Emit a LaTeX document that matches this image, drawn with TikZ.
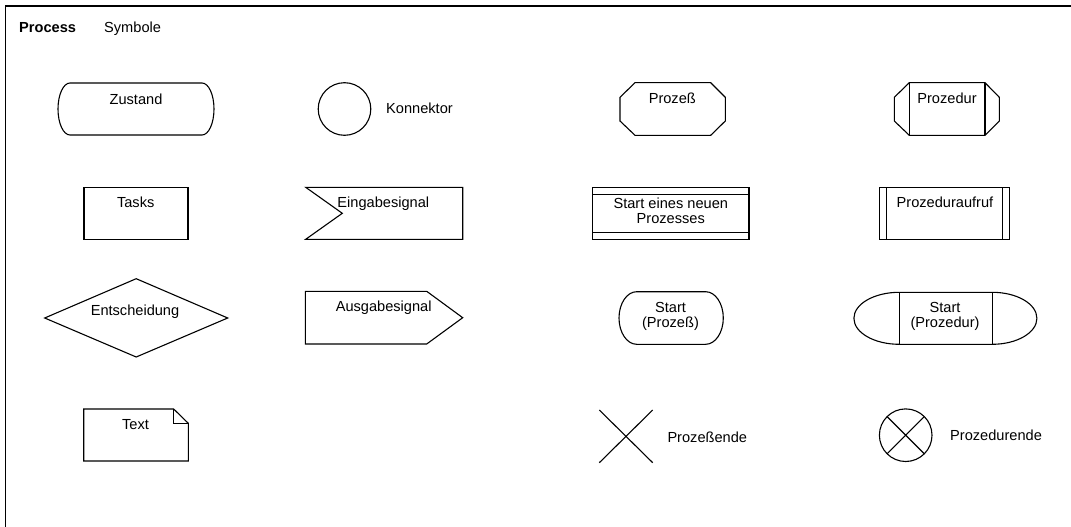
\documentclass[tikz,border=0pt]{standalone}
\usepackage{fontspec}
\setmainfont{Liberation Sans}
\begin{document}
\begin{tikzpicture}[x=1pt,y=-1pt,
  shp/.style={draw=black,line width=1.1pt,line join=miter},
  lbl/.style={inner sep=0pt,anchor=base,font=\fontsize{14.6}{16}\selectfont},
  lblw/.style={lbl,anchor=base west}]
\useasboundingbox (0,0) rectangle (1071,527);
% frame
\draw[line width=1.3pt] (5.5,527) -- (5.5,6) -- (1071,6);
% heading
\node[lblw,font=\fontsize{14.6}{16}\selectfont\bfseries] (hproc) at (19,33) {Process};
\node[lblw] (hsym) at (104,33) {Symbole};

% row 1
\draw[shp] (70,83) -- (202,83) arc[start angle=-90,end angle=90,x radius=12,y radius=26]
  -- (70,135) arc[start angle=90,end angle=270,x radius=12,y radius=26] -- cycle;
\node[lbl] (zustand) at (136,104.5) {Zustand};

\draw[shp] (344.5,109) circle[radius=26.3];
\node[lblw] (konn) at (386,113.5) {Konnektor};

\draw[shp] (635,82.7) -- (710.7,82.7) -- (725.3,97.3) -- (725.3,121) -- (710.7,135.3)
  -- (635,135.3) -- (620,121) -- (620,97.3) -- cycle;
\node[lbl] (prozess) at (672.3,103.3) {Prozeß};

\draw[shp] (909.3,82.7) -- (985,82.7) -- (999.3,97.3) -- (999.3,121) -- (985,135.3)
  -- (909.3,135.3) -- (894.3,121) -- (894.3,97.3) -- cycle;
\draw[shp] (909.3,82.7) -- (909.3,135.3) (985,82.7) -- (985,135.3);
\node[lbl] (prozedur) at (947,103.3) {Prozedur};

% row 2
\draw[shp] (84,187.3) rectangle (188,239.3);
\node[lbl] (tasks) at (135.7,207.6) {Tasks};

\draw[shp] (305.7,187.3) -- (462.7,187.3) -- (462.7,239.3) -- (305.7,239.3) -- (342.3,213.3) -- cycle;
\node[lbl] (eingabe) at (383.3,207.6) {Eingabesignal};

\draw[shp] (592.7,187.3) rectangle (749,239.3);
\draw[shp] (592.7,194.3) -- (749,194.3) (592.7,232.3) -- (749,232.3);
\node[lbl] (startneu1) at (670.8,208) {Start eines neuen};
\node[lbl] (startneu2) at (670.8,223.6) {Prozesses};

\draw[shp] (879.3,187.3) rectangle (1009.3,239.3);
\draw[shp] (886.7,187.3) -- (886.7,239.3) (1002.7,187.3) -- (1002.7,239.3);
\node[lbl] (aufruf) at (945,207.6) {Prozeduraufruf};

% row 3
\draw[shp] (44.7,318) -- (136.2,278.7) -- (227.7,318) -- (136.2,357) -- cycle;
\node[lbl] (entsch) at (135,315.7) {Entscheidung};

\draw[shp] (305.3,291.3) -- (426.7,291.3) -- (462.7,317.7) -- (426.7,344) -- (305.3,344) -- cycle;
\node[lbl] (ausgabe) at (383.7,311.5) {Ausgabesignal};

\draw[shp] (636.7,291.7) -- (705.6,291.7) arc[start angle=-90,end angle=90,x radius=17.7,y radius=26.3]
  -- (636.7,344.3) arc[start angle=90,end angle=270,x radius=17.7,y radius=26.3] -- cycle;
\node[lbl] (startp1) at (670.5,312) {Start};
\node[lbl] (startp2) at (670.5,327.8) {(Prozeß)};

\draw[shp] (899.3,292.3) -- (992.3,292.3) arc[start angle=-90,end angle=90,x radius=44.6,y radius=26]
  -- (899.3,344.3) arc[start angle=90,end angle=270,x radius=45.4,y radius=26] -- cycle;
\draw[shp] (899.3,292.3) -- (899.3,344.3) (992.3,292.3) -- (992.3,344.3);
\node[lbl] (startd1) at (945,312) {Start};
\node[lbl] (startd2) at (945,327.8) {(Prozedur)};

% row 4
\draw[shp] (83.7,409) -- (173.7,409) -- (188.3,423.3) -- (188.3,461) -- (83.7,461) -- cycle;
\draw[shp] (173.7,409) -- (173.7,423.3) -- (188.3,423.3);
\node[lbl] (text) at (135.5,429.4) {Text};

\draw[shp] (599.3,410) -- (652.7,462.7) (599.3,462.7) -- (652.7,410);
\node[lblw] (pende) at (667.3,442.3) {Prozeßende};

\draw[shp] (905.7,435.2) circle[radius=26.3];
\draw[shp] (887.1,416.6) -- (924.3,453.8) (887.1,453.8) -- (924.3,416.6);
\node[lblw] (dende) at (950,440.2) {Prozedurende};
\end{tikzpicture}
\end{document}
